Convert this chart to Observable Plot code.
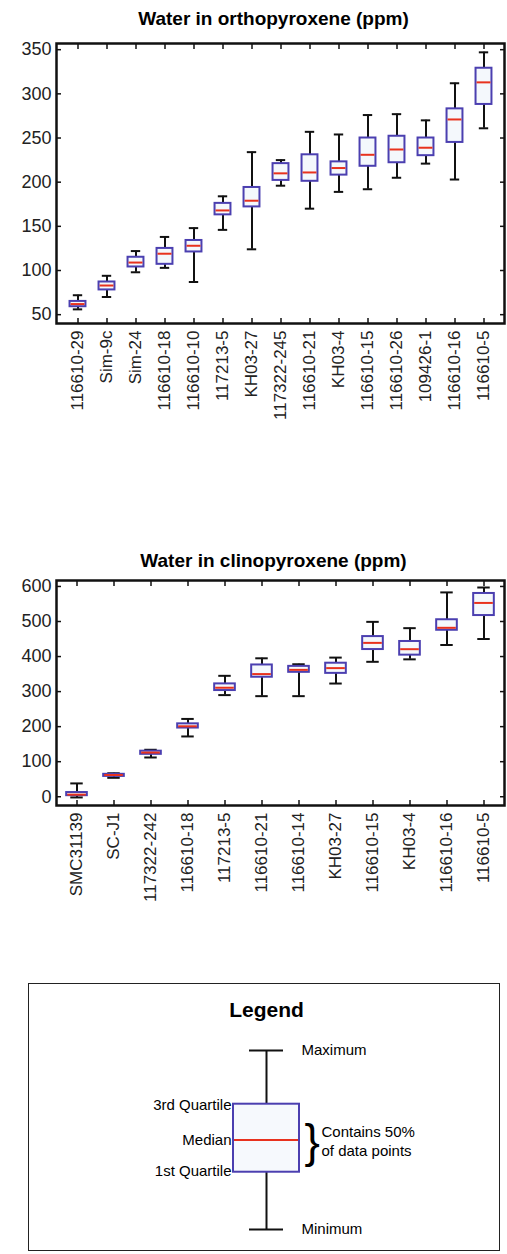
<!DOCTYPE html>
<html><head><meta charset="utf-8">
<script src="https://cdn.jsdelivr.net/npm/d3@7"></script>
<script src="https://cdn.jsdelivr.net/npm/@observablehq/plot@0.6"></script>
<style>
body{margin:0;background:#fff;font-family:"Liberation Sans",Arial,sans-serif;width:507px}
.t{text-align:center;font-weight:bold;font-size:19px;height:20px;margin-left:40px}
</style></head><body>
<div class="t" style="padding-top:8px">Water in orthopyroxene (ppm)</div>
<div id="opx"></div>
<div class="t" style="margin-top:112px">Water in clinopyroxene (ppm)</div>
<div id="cpx"></div>
<div id="legend"></div>
<script>
// orthopyroxene samples: min, q1, median, q3, max
const opxNames = ["116610-29","Sim-9c","Sim-24","116610-18","116610-10","117213-5","KH03-27","117322-245","116610-21","KH03-4","116610-15","116610-26","109426-1","116610-16","116610-5"];
const opxMin = [56,70,98,103,87,146,124,196,170,189,192,205,221,203,261];
const opxQ1  = [59,78,104,107,121,163,172,202,201,208,218,222,230,245,288];
const opxMed = [62,83,109,119,128,168,179,210,211,216,231,237,239,271,313];
const opxQ3  = [65,87,115,125,134,176,194,221,231,223,250,252,250,283,329];
const opxMax = [72,94,122,138,148,184,234,225,257,254,276,277,270,312,347];

// clinopyroxene samples
const cpxNames = ["SMC31139","SC-J1","117322-242","116610-18","117213-5","116610-21","116610-14","KH03-27","116610-15","KH03-4","116610-16","116610-5"];
const cpxMin = [-2,54,112,172,290,287,287,323,385,392,433,450];
const cpxQ1  = [3,58,121,196,303,341,355,352,420,404,475,517];
const cpxMed = [6,62,126,201,311,350,362,367,439,421,482,553];
const cpxQ3  = [12,64,130,208,322,376,372,381,457,443,505,580];
const cpxMax = [38,67,134,222,345,395,378,397,499,481,583,597];

function rows(names, mn, q1, md, q3, mx) {
  return names.map((n, i) => ({n, min: mn[i], q1: q1[i], med: md[i], q3: q3[i], max: mx[i]}));
}

const none = () => "";
function boxes(data, opts) {
  const bw = 446 / data.length;
  const boxInset = bw * 0.22, capInset = bw * 0.33;
  return Plot.plot({
    width: 507, height: opts.height,
    marginLeft: 56, marginRight: 3, marginTop: opts.mt, marginBottom: opts.mb,
    style: {fontFamily: "Liberation Sans, Arial, sans-serif", color: "#222", background: "transparent"},
    x: {domain: data.map(d => d.n), padding: 0, label: null},
    y: {domain: opts.domain, label: null},
    marks: [
      Plot.ruleX(data, {x: "n", y1: "min", y2: "q1", stroke: "#111", strokeWidth: 2}),
      Plot.ruleX(data, {x: "n", y1: "q3", y2: "max", stroke: "#111", strokeWidth: 2}),
      Plot.tickY(data, {x: "n", y: "min", stroke: "#111", strokeWidth: 2, insetLeft: capInset, insetRight: capInset}),
      Plot.tickY(data, {x: "n", y: "max", stroke: "#111", strokeWidth: 2, insetLeft: capInset, insetRight: capInset}),
      Plot.barY(data, {x: "n", y1: "q1", y2: "q3", fill: "#f4f8fc", stroke: "#4b3fb0", strokeWidth: 2, insetLeft: boxInset, insetRight: boxInset}),
      Plot.tickY(data, {x: "n", y: "med", stroke: "#e8321e", strokeWidth: 2, insetLeft: boxInset + 1, insetRight: boxInset + 1}),
      Plot.axisY({ticks: opts.ticks, tickSize: -5, tickPadding: 10, fontSize: 18, stroke: "#111", strokeWidth: 1.5}),
      Plot.axisY({ticks: opts.ticks, anchor: "right", tickSize: -5, tickFormat: none, stroke: "#111", strokeWidth: 1.5}),
      Plot.axisX({tickSize: -5, tickRotate: -90, tickPadding: 12, fontSize: 17, stroke: "#111", strokeWidth: 1.5}),
      Plot.axisX({anchor: "top", tickSize: -5, tickFormat: none, stroke: "#111", strokeWidth: 1.5}),
      Plot.frame({stroke: "#111", strokeWidth: 2.5})
    ]
  });
}

document.getElementById("opx").append(boxes(rows(opxNames, opxMin, opxQ1, opxMed, opxQ3, opxMax),
  {height: 410, mt: 15, mb: 115, domain: [40, 357], ticks: [50,100,150,200,250,300,350]}));
document.getElementById("cpx").append(boxes(rows(cpxNames, cpxMin, cpxQ1, cpxMed, cpxQ3, cpxMax),
  {height: 345, mt: 10, mb: 110, domain: [-25, 617], ticks: [0,100,200,300,400,500,600]}));

// legend diagram: a single example box
const legendBox = [{n: "", min: 0, q1: 32, med: 50, q3: 70, max: 100}];
const lg = Plot.plot({
  width: 470, height: 265, marginLeft: 0, marginRight: 0, marginTop: 66, marginBottom: 20,
  style: {fontFamily: "Liberation Sans, Arial, sans-serif", background: "transparent"},
  x: {domain: [0, 470], axis: null},
  y: {domain: [0, 100], axis: null},
  marks: [
    Plot.ruleX(legendBox, {x: 237, y1: "min", y2: "max", stroke: "#111", strokeWidth: 2}),
    Plot.ruleY(legendBox, {y: "min", x1: 220, x2: 254, stroke: "#111", strokeWidth: 2}),
    Plot.ruleY(legendBox, {y: "max", x1: 220, x2: 254, stroke: "#111", strokeWidth: 2}),
    Plot.rect(legendBox, {x1: 204, x2: 270, y1: "q1", y2: "q3", fill: "#f6f9fd", stroke: "#4b3fb0", strokeWidth: 2}),
    Plot.ruleY(legendBox, {y: "med", x1: 205, x2: 269, stroke: "#e8321e", strokeWidth: 2}),
    Plot.text(legendBox, {x: 237, y: 100, text: () => "Legend", dy: -40, fontSize: 21, fontWeight: "bold"}),
    Plot.text(legendBox, {x: 272, y: "max", text: () => "Maximum", textAnchor: "start", fontSize: 15}),
    Plot.text(legendBox, {x: 272, y: "min", text: () => "Minimum", textAnchor: "start", fontSize: 15}),
    Plot.text(legendBox, {x: 206, y: "q3", text: () => "3rd Quartile", textAnchor: "end", dx: -4, dy: 1, fontSize: 15}),
    Plot.text(legendBox, {x: 206, y: "med", text: () => "Median", textAnchor: "end", dx: -4, fontSize: 15}),
    Plot.text(legendBox, {x: 206, y: "q1", text: () => "1st Quartile", textAnchor: "end", dx: -4, dy: -1, fontSize: 15}),
    Plot.text(legendBox, {x: 275, y: "med", text: () => "}", fontSize: 46, textAnchor: "start", dy: 2}),
    Plot.text(legendBox, {x: 292, y: "med", text: () => "Contains 50%\nof data points", textAnchor: "start", lineHeight: 1.3, fontSize: 15})
  ]
});
const wrap = document.createElement("div");
wrap.style.cssText = "margin:68px 0 0 28px;width:472px;height:268px;border:1.5px solid #222;box-sizing:border-box;overflow:hidden";
wrap.append(lg);
document.getElementById("legend").append(wrap);
</script>
</body></html>
